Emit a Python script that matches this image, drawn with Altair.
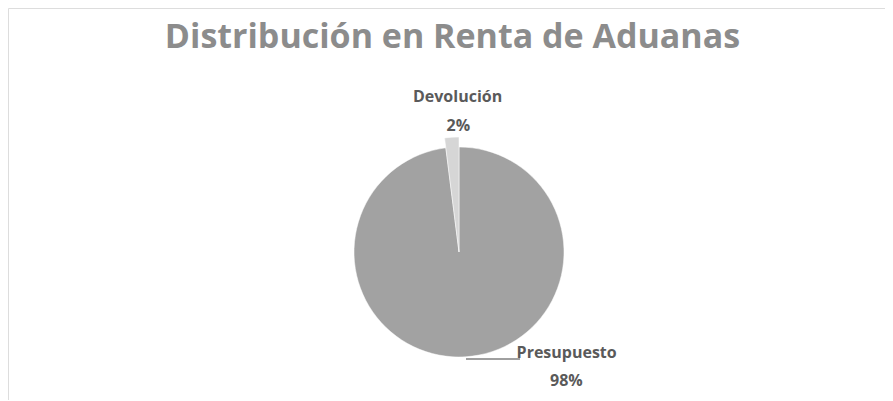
import altair as alt
import pandas as pd

categorias = ["Presupuesto", "Devolución"]
valores = [98, 2]
orden = [1, 2]
colores = ["#a2a2a2", "#d6d6d6"]

df = pd.DataFrame({"categoria": categorias, "valor": valores, "orden": orden})

W, H = 877, 392
CX, CY = 451, 244

base = (
    alt.Chart(df)
    .transform_joinaggregate(total="sum(valor)")
    .transform_window(cum="sum(valor)", sort=[alt.SortField("orden")])
    .transform_calculate(
        t0="(datum.cum - datum.valor) / datum.total * 2 * PI",
        t1="datum.cum / datum.total * 2 * PI",
        mid="(datum.cum - datum.valor / 2) / datum.total * 2 * PI",
        pct="round(datum.valor / datum.total * 100) + '%'",
        r="datum.categoria == 'Devolución' ? 115 : 105",
    )
)

arcs = base.mark_arc(stroke="white", strokeWidth=0.5).encode(
    x=alt.value(CX),
    y=alt.value(CY),
    theta=alt.Theta("t0:Q", scale=None),
    theta2="t1:Q",
    radius=alt.Radius("r:Q", scale=None),
    color=alt.Color("categoria:N", scale=alt.Scale(domain=categorias, range=colores), legend=None),
    order=alt.Order("orden:Q"),
)

def label(cat, r, dx, field, size=16):
    return (
        base.transform_filter(alt.datum.categoria == cat)
        .mark_text(font="Open Sans", fontSize=size, fontWeight="bold", color="#5a5a5a",
                   align="center", baseline="alphabetic", dx=dx)
        .encode(
            x=alt.value(CX),
            y=alt.value(CY),
            theta=alt.Theta("mid:Q", scale=None),
            radius=alt.value(r),
            text=alt.Text(field),
        )
    )

dev_name = label("Devolución", 150, 8, "categoria:N")
dev_pct = label("Devolución", 121, 7, "pct:N")
pre_name = label("Presupuesto", 106, 101, "categoria:N")
pre_pct = label("Presupuesto", 134, 99, "pct:N")

leader = alt.Chart(df).transform_filter(alt.datum.categoria == "Presupuesto").mark_rule(
    color="#404040", strokeWidth=1
).encode(x=alt.value(458), x2=alt.value(512), y=alt.value(351))

chart = (
    alt.layer(arcs, leader, dev_name, dev_pct, pre_name, pre_pct)
    .properties(
        width=W,
        height=H,
        autosize=alt.AutoSizeParams(type="none"),
        padding=0,
        title=alt.TitleParams(
            "Distribución en Renta de Aduanas",
            font="Open Sans",
            fontSize=34,
            fontWeight="bold",
            color="#8c8c8c",
            anchor="middle",
            frame="group",
            baseline="alphabetic",
            offset=-74,
            dx=6,
        ),
    )
    .configure_view(stroke=None)
    .configure(background="white")
)

chart.save("out.html", embed_options={"renderer": "svg", "actions": False})
